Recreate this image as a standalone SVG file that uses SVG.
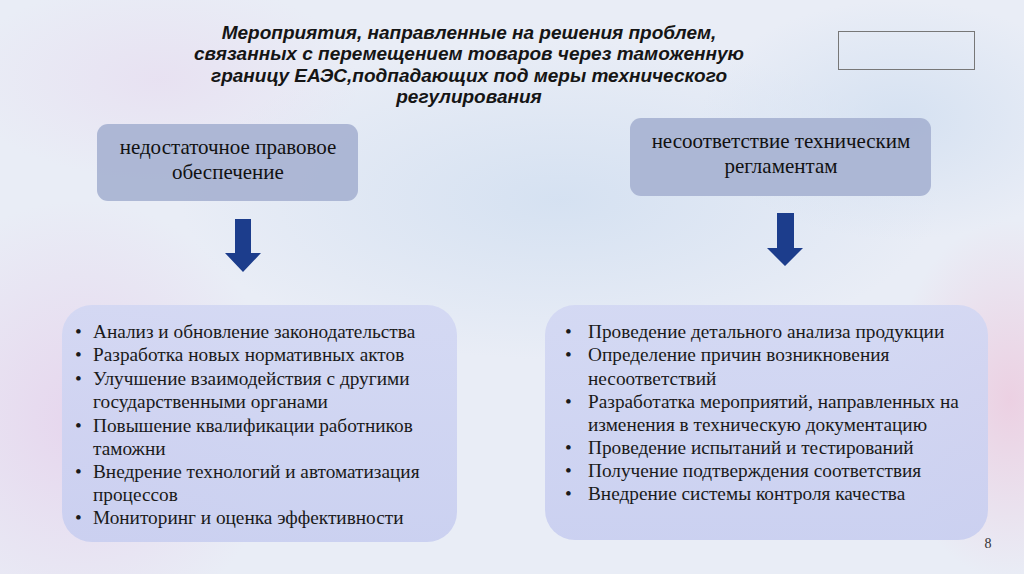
<svg xmlns="http://www.w3.org/2000/svg" width="1024" height="574" viewBox="0 0 1024 574">
<defs>
<radialGradient id="pinkL" cx="0.5" cy="0.5" r="0.5">
<stop offset="0" stop-color="#e6d3ec" stop-opacity="0.9"/>
<stop offset="1" stop-color="#e6d3ec" stop-opacity="0"/>
</radialGradient>
<radialGradient id="pinkR" cx="0.5" cy="0.5" r="0.5">
<stop offset="0" stop-color="#eccde0" stop-opacity="0.9"/>
<stop offset="1" stop-color="#eccde0" stop-opacity="0"/>
</radialGradient>
<radialGradient id="blueA" cx="0.5" cy="0.5" r="0.5">
<stop offset="0" stop-color="#d3e0f1" stop-opacity="0.9"/>
<stop offset="1" stop-color="#d3e0f1" stop-opacity="0"/>
</radialGradient>
<linearGradient id="botFill" x1="0" y1="0" x2="0" y2="1">
<stop offset="0" stop-color="#d2d7f3"/>
<stop offset="1" stop-color="#c8cef0"/>
</linearGradient>
<style>
.title{font-family:"Liberation Sans",Arial,sans-serif;font-weight:bold;font-style:italic;font-size:19px;fill:#151515;text-anchor:middle}
.head{font-family:"Liberation Serif","Times New Roman",serif;font-size:21px;fill:#111;text-anchor:middle}
.item{font-family:"Liberation Serif","Times New Roman",serif;font-size:19.3px;fill:#1a1a1a}
.topbox{fill:#a6b1d2;fill-opacity:0.9}
.botbox{fill:url(#botFill);fill-opacity:0.9}
.arrow{fill:#1c3d8c}
</style>
</defs>
<rect x="0" y="0" width="1024" height="574" fill="#e9edf6"/>
<ellipse cx="80" cy="420" rx="200" ry="220" fill="url(#pinkL)"/>
<ellipse cx="1010" cy="400" rx="120" ry="180" fill="url(#pinkR)"/>
<ellipse cx="560" cy="200" rx="380" ry="160" fill="url(#blueA)"/>
<ellipse cx="900" cy="120" rx="200" ry="120" fill="url(#blueA)"/>
<ellipse cx="160" cy="80" rx="200" ry="100" fill="url(#pinkL)" opacity="0.5"/>

<g id="title">
<text class="title" x="469" y="39">Мероприятия, направленные на решения проблем,</text>
<text class="title" x="469" y="60">связанных с перемещением товаров через таможенную</text>
<text class="title" x="469" y="82">границу ЕАЭС,подпадающих под меры технического</text>
<text class="title" x="469" y="103">регулирования</text>
</g>

<g id="frame">
<rect x="838.5" y="31.5" width="136" height="38" fill="none" stroke="#777" stroke-width="1"/>
</g>

<g id="node-left-head">
<rect class="topbox" x="97" y="124" width="261" height="77" rx="11"/>
<text class="head" x="228" y="154">недостаточное правовое</text>
<text class="head" x="228" y="179">обеспечение</text>
</g>

<g id="node-right-head">
<rect class="topbox" x="630" y="118" width="301" height="78" rx="11"/>
<text class="head" x="781" y="148">несоответствие техническим</text>
<text class="head" x="781" y="173">регламентам</text>
</g>

<g id="connectors">
<polygon class="arrow" points="235,219 251,219 251,253 261,253 243,272 225,253 235,253"/>
<polygon class="arrow" points="777,213 794,213 794,248 803,248 785,266 767,248 777,248"/>
</g>

<g id="node-left-list">
<rect class="botbox" x="62" y="305" width="395" height="237" rx="30"/>
<g class="item">
<text x="75" y="338">•</text><text x="93" y="338">Анализ и обновление законодательства</text>
<text x="75" y="361">•</text><text x="93" y="361">Разработка новых нормативных актов</text>
<text x="75" y="385">•</text><text x="93" y="385">Улучшение взаимодействия с другими</text>
<text x="93" y="408">государственными органами</text>
<text x="75" y="432">•</text><text x="93" y="432">Повышение квалификации работников</text>
<text x="93" y="455">таможни</text>
<text x="75" y="478">•</text><text x="93" y="478">Внедрение технологий и автоматизация</text>
<text x="93" y="501">процессов</text>
<text x="75" y="524">•</text><text x="93" y="524">Мониторинг и оценка эффективности</text>
</g>
</g>

<g id="node-right-list">
<rect class="botbox" x="545" y="305" width="443" height="235" rx="30"/>
<g class="item">
<text x="565" y="338">•</text><text x="588" y="338">Проведение детального анализа продукции</text>
<text x="565" y="361">•</text><text x="588" y="361">Определение причин возникновения</text>
<text x="588" y="385">несоответствий</text>
<text x="565" y="408">•</text><text x="588" y="408">Разработатка мероприятий, направленных на</text>
<text x="588" y="431">изменения в техническую документацию</text>
<text x="565" y="454">•</text><text x="588" y="454">Проведение испытаний и тестирований</text>
<text x="565" y="477">•</text><text x="588" y="477">Получение подтверждения соответствия</text>
<text x="565" y="500">•</text><text x="588" y="500">Внедрение системы контроля качества</text>
</g>
</g>

<text x="988" y="548" font-family="Liberation Serif, serif" font-size="14" fill="#333" text-anchor="middle">8</text>
</svg>
